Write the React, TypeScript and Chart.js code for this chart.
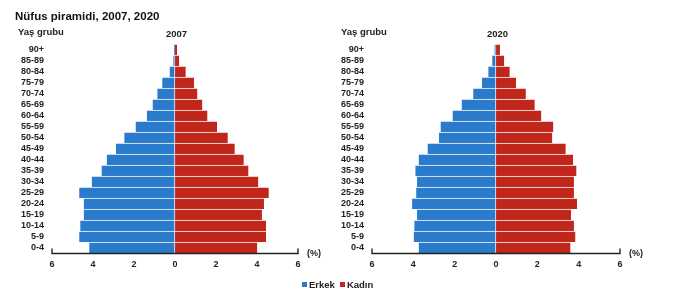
import React, { useEffect, useRef } from "react";
import { Chart, registerables } from "chart.js";

Chart.register(...registerables);

// Age groups, top row first
const ageGroups = [
  "90+", "85-89", "80-84", "75-79", "70-74", "65-69", "60-64", "55-59", "50-54",
  "45-49", "40-44", "35-39", "30-34", "25-29", "20-24", "15-19", "10-14", "5-9", "0-4",
];

// Share of population (%) per age group
const male2007 = [0.05, 0.08, 0.26, 0.62, 0.86, 1.09, 1.37, 1.92, 2.47, 2.88, 3.33, 3.58, 4.06, 4.67, 4.45, 4.45, 4.62, 4.67, 4.18];
const female2007 = [0.1, 0.2, 0.52, 0.93, 1.09, 1.33, 1.58, 2.05, 2.57, 2.91, 3.35, 3.58, 4.06, 4.57, 4.34, 4.24, 4.44, 4.44, 4.01];
const male2020 = [0.07, 0.18, 0.37, 0.68, 1.1, 1.66, 2.1, 2.68, 2.76, 3.31, 3.74, 3.9, 3.82, 3.86, 4.06, 3.82, 3.95, 3.98, 3.74];
const female2020 = [0.19, 0.39, 0.66, 0.97, 1.44, 1.87, 2.19, 2.77, 2.72, 3.37, 3.73, 3.89, 3.77, 3.77, 3.92, 3.63, 3.77, 3.84, 3.6];

const xTicks = [-6, -4, -2, 0, 2, 4, 6];
const seriesNames = ["Erkek", "Kadın"];

const BLUE = "#2b7bcc";
const RED = "#c1261b";
const TEXT = "#222";
const FONT = "'Liberation Sans', Arial, sans-serif";

// Bottom axis line with short upward end ticks
const axisLinePlugin = {
  id: "axisLine",
  afterDatasetsDraw(chart: any) {
    const { ctx, chartArea } = chart;
    const y = Math.round(chartArea.bottom) + 0.5;
    ctx.save();
    ctx.strokeStyle = "#222";
    ctx.lineWidth = 1.4;
    ctx.beginPath();
    ctx.moveTo(chartArea.left, y - 5);
    ctx.lineTo(chartArea.left, y);
    ctx.lineTo(chartArea.right, y);
    ctx.lineTo(chartArea.right, y - 5);
    ctx.stroke();
    ctx.restore();
  },
};

type PyramidProps = {
  male: number[];
  female: number[];
  padRight: number;
  yAxisWidth: number;
};

function Pyramid({ male, female, padRight, yAxisWidth }: PyramidProps) {
  const ref = useRef<HTMLCanvasElement | null>(null);

  useEffect(() => {
    if (!ref.current) return;
    const chart = new Chart(ref.current, {
      type: "bar",
      data: {
        labels: ageGroups,
        datasets: [
          {
            label: seriesNames[0],
            data: male.map((v) => -v),
            backgroundColor: BLUE,
            borderColor: "rgba(255,255,255,0.5)",
            borderWidth: { top: 1, right: 1, bottom: 0, left: 0 },
            borderSkipped: false,
            barPercentage: 1,
            categoryPercentage: 1,
          },
          {
            label: seriesNames[1],
            data: female,
            backgroundColor: RED,
            borderColor: "rgba(255,255,255,0.5)",
            borderWidth: { top: 1, right: 0, bottom: 0, left: 0 },
            borderSkipped: false,
            barPercentage: 1,
            categoryPercentage: 1,
          },
        ],
      },
      options: {
        indexAxis: "y",
        animation: false,
        responsive: false,
        maintainAspectRatio: false,
        layout: { padding: { top: 44, bottom: 28, left: 0, right: padRight } },
        plugins: { legend: { display: false }, tooltip: { enabled: false }, title: { display: false } },
        scales: {
          x: {
            stacked: true,
            min: -6,
            max: 6,
            afterBuildTicks: (axis: any) => {
              axis.ticks = xTicks.map((v) => ({ value: v }));
            },
            afterFit: (axis: any) => {
              axis.height = 20;
            },
            grid: { display: false, drawTicks: false },
            border: { display: false },
            ticks: {
              padding: 6,
              color: TEXT,
              font: { family: FONT, size: 9, weight: "bold" },
              callback: (v: any) => String(Math.abs(Number(v))),
              maxRotation: 0,
            },
          },
          y: {
            stacked: true,
            afterFit: (axis: any) => {
              axis.width = yAxisWidth;
            },
            grid: { display: false, drawTicks: false },
            border: { display: false },
            ticks: {
              padding: 8,
              color: TEXT,
              font: { family: FONT, size: 9, weight: "bold" },
              autoSkip: false,
            },
          },
        },
      },
      plugins: [axisLinePlugin],
    });
    return () => chart.destroy();
  }, [male, female, padRight, yAxisWidth]);

  return <canvas ref={ref} width={336} height={301} style={{ display: "block", width: 336, height: 301 }} />;
}

const textStyle: React.CSSProperties = {
  position: "absolute",
  fontFamily: FONT,
  fontWeight: "bold",
  color: TEXT,
  whiteSpace: "nowrap",
  lineHeight: 1,
};

export default function App() {
  return (
    <div style={{ position: "absolute", left: 0, top: 0, width: 673, height: 301, background: "#fff", overflow: "hidden" }}>
      <div style={{ position: "absolute", left: 0, top: 0 }}>
        <Pyramid male={male2007} female={female2007} padRight={38} yAxisWidth={52} />
      </div>
      <div style={{ position: "absolute", left: 336, top: 0 }}>
        <Pyramid male={male2020} female={female2020} padRight={52} yAxisWidth={36} />
      </div>

      <div style={{ ...textStyle, left: 15, top: 11, fontSize: 11.5, color: "#111" }}>Nüfus piramidi, 2007, 2020</div>
      <div style={{ ...textStyle, left: 18, top: 27, fontSize: 9.5 }}>Yaş grubu</div>
      <div style={{ ...textStyle, left: 166, top: 29, fontSize: 9.5 }}>2007</div>
      <div style={{ ...textStyle, left: 341, top: 27, fontSize: 9.5 }}>Yaş grubu</div>
      <div style={{ ...textStyle, left: 487, top: 29, fontSize: 9.5 }}>2020</div>
      <div style={{ ...textStyle, left: 307, top: 249, fontSize: 9 }}>(%)</div>
      <div style={{ ...textStyle, left: 629, top: 249, fontSize: 9 }}>(%)</div>

      <div style={{ ...textStyle, left: 302, top: 280, fontSize: 9.5, display: "flex", alignItems: "center" }}>
        <span style={{ display: "inline-block", width: 5, height: 5, background: BLUE, marginRight: 2 }} />
        <span>{seriesNames[0]}</span>
        <span style={{ display: "inline-block", width: 5, height: 5, background: RED, marginLeft: 5, marginRight: 2 }} />
        <span>{seriesNames[1]}</span>
      </div>
    </div>
  );
}
